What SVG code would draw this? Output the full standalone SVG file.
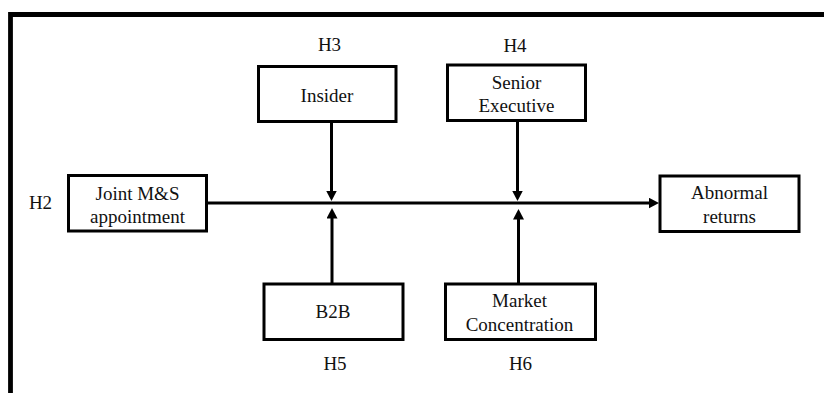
<svg xmlns="http://www.w3.org/2000/svg" width="824" height="393" viewBox="0 0 824 393">
<style>
.box{fill:#fff;stroke:#000;stroke-width:3}
.t{font-family:"Liberation Serif","Times New Roman",serif;font-size:19px;fill:#111;text-anchor:middle}
.c{stroke:#000;stroke-width:3;fill:none}
</style>
<defs>
<marker id="ah" markerUnits="userSpaceOnUse" markerWidth="11" markerHeight="11" refX="0.5" refY="5.5" orient="auto" viewBox="0 0 11 11">
<path d="M0,0 L10.5,5.5 L0,11 z" fill="#000"/>
</marker>
</defs>
<rect width="824" height="393" fill="#fff"/>
<path d="M10.5,393 V14.5 H824" fill="none" stroke="#000" stroke-width="4.8"/>
<g id="connectors">
<line class="c" x1="207" y1="203" x2="649" y2="203" marker-end="url(#ah)"/>
<line class="c" x1="331.5" y1="122" x2="331.5" y2="191" marker-end="url(#ah)"/>
<line class="c" x1="332" y1="284" x2="332" y2="218" marker-end="url(#ah)"/>
<line class="c" x1="517.5" y1="121" x2="517.5" y2="191" marker-end="url(#ah)"/>
<line class="c" x1="518.5" y1="284" x2="518.5" y2="219" marker-end="url(#ah)"/>
</g>
<g id="joint">
<rect class="box" x="68.5" y="175.5" width="138" height="55.5"/>
<text class="t" x="137.5" y="200">Joint M&amp;S</text>
<text class="t" x="137.5" y="223">appointment</text>
<text class="t" x="40.5" y="209">H2</text>
</g>
<g id="insider">
<rect class="box" x="258.5" y="66.5" width="137.5" height="55"/>
<text class="t" x="327" y="101.5">Insider</text>
<text class="t" x="329.5" y="51">H3</text>
</g>
<g id="senior">
<rect class="box" x="447.5" y="65" width="138" height="55.5"/>
<text class="t" x="516.5" y="88.5">Senior</text>
<text class="t" x="516.5" y="111.5">Executive</text>
<text class="t" x="515" y="51.5">H4</text>
</g>
<g id="abnormal">
<rect class="box" x="660" y="176" width="139" height="55.5"/>
<text class="t" x="729.5" y="199">Abnormal</text>
<text class="t" x="729.5" y="222.5">returns</text>
</g>
<g id="b2b">
<rect class="box" x="264" y="284" width="139" height="55.5"/>
<text class="t" x="333" y="318">B2B</text>
<text class="t" x="335" y="370">H5</text>
</g>
<g id="market">
<rect class="box" x="445.5" y="284" width="150" height="55.5"/>
<text class="t" x="519.5" y="306.5">Market</text>
<text class="t" x="519.5" y="331">Concentration</text>
<text class="t" x="520.5" y="370">H6</text>
</g>
</svg>
